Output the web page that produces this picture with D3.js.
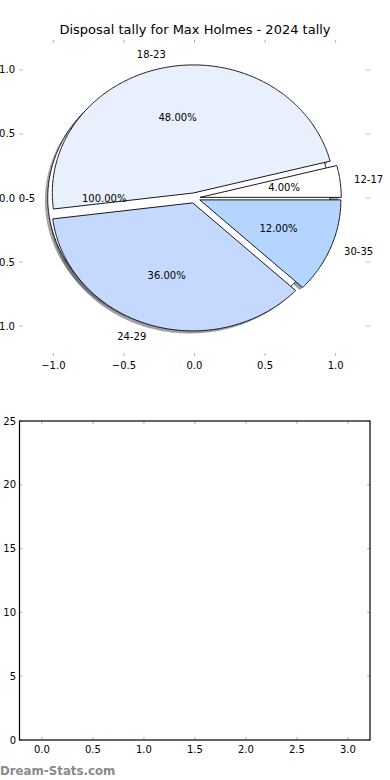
<!DOCTYPE html>
<html>
<head>
<meta charset="utf-8">
<script src="https://cdn.jsdelivr.net/npm/d3@7/dist/d3.min.js"></script>
<style>
  body { margin: 0; background: #fff; }
  svg { display: block; font-family: "DejaVu Sans", sans-serif; }
</style>
</head>
<body>
<svg id="chart" width="390" height="780"></svg>
<script>
// values
var ageGroups = ["12-17", "18-23", "24-29", "30-35"];
var tallies = [1, 12, 9, 3];
var wedgeColors = ["#ffffff", "#e9f0fd", "#c5d9fe", "#b3d5ff"];
var outerGroups = ["0-5"];
var outerTallies = [25];
var pieTicks = [-1.0, -0.5, 0.0, 0.5, 1.0];
var barXTicks = [0, 0.5, 1, 1.5, 2, 2.5, 3];
var barYTicks = [0, 5, 10, 15, 20, 25];

var svg = d3.select("#chart");
var tickGray = "#b0b0b0";

// ---- top: pie axes ----
var px = d3.scaleLinear().domain([-1.24, 1.24]).range([19.5, 369.5]);
var py = d3.scaleLinear().domain([-1.234, 1.234]).range([356, 40]);

svg.append("text")
  .attr("x", 195).attr("y", 34)
  .attr("text-anchor", "middle")
  .style("font-size", "13px")
  .text("Disposal tally for Max Holmes - 2024 tally");

// ticks (frame is off, only small marks)
pieTicks.forEach(function (t) {
  svg.append("line").attr("x1", px(t)).attr("x2", px(t)).attr("y1", 40).attr("y2", 43)
    .attr("stroke", tickGray);
  svg.append("line").attr("x1", px(t)).attr("x2", px(t)).attr("y1", 356).attr("y2", 353)
    .attr("stroke", tickGray);
  svg.append("line").attr("y1", py(t)).attr("y2", py(t)).attr("x1", 19.5).attr("x2", 22.5)
    .attr("stroke", tickGray);
  svg.append("line").attr("y1", py(t)).attr("y2", py(t)).attr("x1", 369.5).attr("x2", 366.5)
    .attr("stroke", tickGray);
  svg.append("text").attr("x", px(t)).attr("y", 369)
    .attr("text-anchor", "middle").style("font-size", "10px")
    .text(d3.format(".1f")(t).replace("-", "\u2212"));
  svg.append("text").attr("x", 15).attr("y", py(t) + 3.5)
    .attr("text-anchor", "end").style("font-size", "10px")
    .text(d3.format(".1f")(t).replace("-", "\u2212"));
});

function wedgePath(cx, cy, a0, a1) {
  var pts = [];
  var full = (a1 - a0) >= 2 * Math.PI - 1e-9;
  if (!full) pts.push([cx, cy]);
  var n = Math.max(2, Math.ceil((a1 - a0) / 0.01));
  for (var i = 0; i <= n; i++) {
    var a = a0 + (a1 - a0) * i / n;
    pts.push([cx + Math.cos(a), cy + Math.sin(a)]);
  }
  return d3.line().x(function (d) { return px(d[0]); }).y(function (d) { return py(d[1]); })(pts) + "Z";
}

function pieSlices(names, values, explode) {
  var total = d3.sum(values);
  var pie = d3.pie().sort(null).startAngle(0).endAngle(2 * Math.PI);
  return pie(values).map(function (p, i) {
    var mid = (p.startAngle + p.endAngle) / 2;
    return {
      name: names[i], value: values[i], pct: values[i] / total * 100,
      a0: p.startAngle, a1: p.endAngle, mid: mid,
      cx: explode * Math.cos(mid), cy: explode * Math.sin(mid),
      color: wedgeColors[i]
    };
  });
}

var outer = pieSlices(outerGroups, outerTallies, 0.04);
outer.forEach(function (d) { d.color = "#ffffff"; });
var inner = pieSlices(ageGroups, tallies, 0.04);
var all = outer.concat(inner);

var pieG = svg.append("g");
// shadows behind everything
pieG.selectAll("path.shadow").data(all).enter().append("path")
  .attr("class", "shadow")
  .attr("d", function (d) { return wedgePath(d.cx - 0.02, d.cy - 0.02, d.a0, d.a1); })
  .attr("fill", function (d) {
    var c = d3.rgb(d.color);
    return "rgba(" + Math.round(c.r * 0.3) + "," + Math.round(c.g * 0.3) + "," + Math.round(c.b * 0.3) + ",0.5)";
  })
  .attr("stroke", "none");

pieG.selectAll("path.wedge").data(all).enter().append("path")
  .attr("class", "wedge")
  .attr("d", function (d) { return wedgePath(d.cx, d.cy, d.a0, d.a1); })
  .attr("fill", function (d) { return d.color; })
  .attr("stroke", "#000").attr("stroke-width", 0.9).attr("stroke-linejoin", "miter");

// labels
all.forEach(function (d) {
  var lx = d.cx + 1.1 * Math.cos(d.mid), ly = d.cy + 1.1 * Math.sin(d.mid);
  svg.append("text").attr("x", px(lx) + (lx > 0 ? 0 : 1.5)).attr("y", py(ly) + 3.5)
    .attr("text-anchor", lx > 0 ? "start" : "end")
    .style("font-size", "10px").text(d.name);
  var tx = d.cx + 0.6 * Math.cos(d.mid), ty = d.cy + 0.6 * Math.sin(d.mid);
  svg.append("text").attr("x", px(tx)).attr("y", py(ty) + 3.5)
    .attr("text-anchor", "middle")
    .style("font-size", "10px").text(d.pct.toFixed(2) + "%");
});

// ---- bottom: empty axes ----
var bx = d3.scaleLinear().domain([-0.22, 3.216]).range([19.5, 370]);
var by = d3.scaleLinear().domain([0, 25]).range([740, 421]);

var g2 = svg.append("g");
barXTicks.forEach(function (t) {
  g2.append("line").attr("x1", bx(t)).attr("x2", bx(t)).attr("y1", 740).attr("y2", 737).attr("stroke", tickGray);
  g2.append("line").attr("x1", bx(t)).attr("x2", bx(t)).attr("y1", 421).attr("y2", 424).attr("stroke", tickGray);
  g2.append("text").attr("x", bx(t)).attr("y", 753).attr("text-anchor", "middle")
    .style("font-size", "10px").text(d3.format(".1f")(t));
});
barYTicks.forEach(function (t) {
  g2.append("line").attr("y1", by(t)).attr("y2", by(t)).attr("x1", 19.5).attr("x2", 22.5).attr("stroke", tickGray);
  g2.append("line").attr("y1", by(t)).attr("y2", by(t)).attr("x1", 370).attr("x2", 367).attr("stroke", tickGray);
  g2.append("text").attr("x", 16).attr("y", by(t) + 3.5).attr("text-anchor", "end")
    .style("font-size", "10px").text(t);
});
g2.append("rect").attr("x", 19.5).attr("y", 421).attr("width", 350.5).attr("height", 319)
  .attr("fill", "none").attr("stroke", "#000").attr("stroke-width", 1.2);

svg.append("text").attr("x", 0).attr("y", 775)
  .style("font-size", "11.8px").style("font-weight", "600").attr("fill", "#8a8a8a")
  .text("Dream-Stats.com");
</script>
</body>
</html>
